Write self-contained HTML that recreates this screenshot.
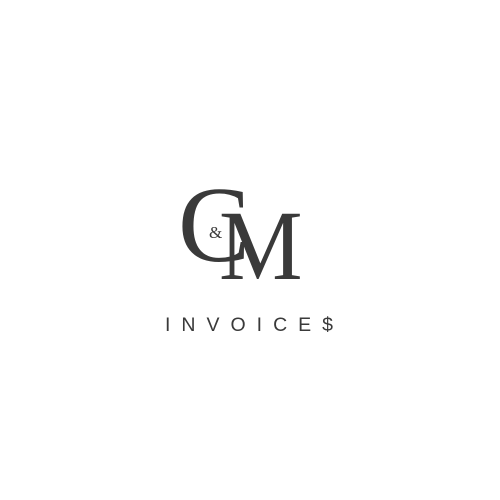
<!DOCTYPE html>
<html><head><meta charset="utf-8"><style>
body{margin:0;width:500px;height:500px;background:#fff;position:relative;overflow:hidden}
.t{position:absolute;line-height:1;color:#3a3a3a;white-space:nowrap}
.s{font-family:"Liberation Serif",serif}
</style></head><body>
<div>
<div class="t s" style="left:178px;top:172px;font-size:108px">C</div>
<div class="t s" style="left:209px;top:224px;font-size:17px">&amp;</div>
<div class="t s" style="left:219px;top:196px;font-size:100px;transform:scaleX(0.94);transform-origin:left top">M</div>
<div class="t" style="left:165px;top:316px;font-size:19.5px;letter-spacing:11px;font-family:'Liberation Sans',sans-serif">INVOICE$</div>
</div>
</body></html>
